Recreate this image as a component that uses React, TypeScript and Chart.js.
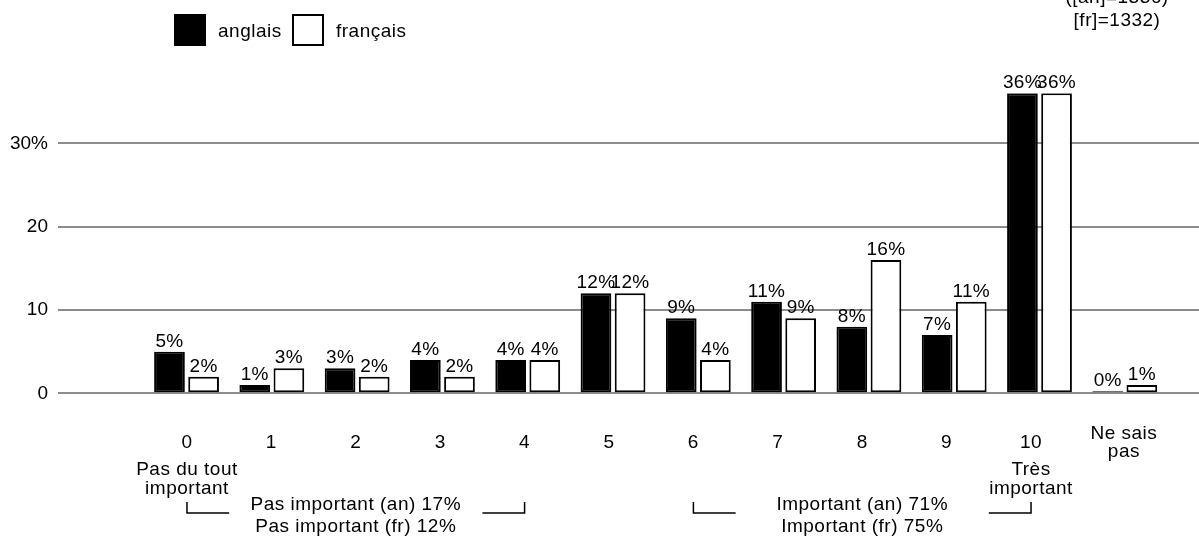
import React, { useEffect, useRef } from 'react';
import { Chart, registerables } from 'chart.js';

Chart.register(...registerables);

// ---- data ----
const POSITIONS = [0, 1, 2, 3, 4, 5, 6, 7, 8, 9, 10, 11];
const ANGLAIS = [5, 1, 3, 4, 4, 12, 9, 11, 8, 7, 36, 0];
const FRANCAIS = [2, 3, 2, 2, 4, 12, 4, 9, 16, 11, 36, 1];
const TICK_LABELS: (string | string[])[] = ['0', '1', '2', '3', '4', '5', '6', '7', '8', '9', '10', ['Ne sais', 'pas']];
const SUB_LABELS = [
  { at: 0, lines: ['Pas du tout', 'important'] },
  { at: 10, lines: ['Très', 'important'] },
];
const GROUPS = [
  { from: 0, to: 4, lines: ['Pas important (an) 17%', 'Pas important (fr) 12%'] },
  { from: 6, to: 10, lines: ['Important (an) 71%', 'Important (fr) 75%'] },
];
const SERIES_NAMES = ['anglais', 'français'];
const SAMPLE_LINES = ['([an]=1336)', '[fr]=1332)'];

const FAMILY = '"Liberation Sans", Arial, Helvetica, sans-serif';
const FONT = `19px ${FAMILY}`;

const annotations = {
  id: 'annotations',
  afterDatasetsDraw(chart: any) {
    const ctx = chart.ctx;
    ctx.save();
    ctx.font = FONT;
    ctx.letterSpacing = '0.3px';
    ctx.fillStyle = '#000';
    ctx.textAlign = 'center';
    ctx.textBaseline = 'alphabetic';
    chart.data.datasets.forEach((ds: any, di: number) => {
      const meta = chart.getDatasetMeta(di);
      meta.data.forEach((el: any, i: number) => {
        const v = ds.data[i].y;
        ctx.fillText(`${v}%`, el.x, el.y - 5);
      });
    });
    ctx.restore();
  },
  afterDraw(chart: any) {
    const ctx = chart.ctx;
    const lab = chart.scales.lab;
    ctx.save();
    ctx.font = FONT;
    ctx.letterSpacing = '0.5px';
    ctx.fillStyle = '#000';
    ctx.strokeStyle = '#000';
    ctx.textAlign = 'center';
    ctx.textBaseline = 'alphabetic';

    // category labels
    TICK_LABELS.forEach((l, i) => {
      const x = lab.getPixelForValue(i === 11 ? 11.1 : i);
      if (Array.isArray(l)) {
        ctx.fillText(l[0], x, 439);
        ctx.fillText(l[1], x, 457);
      } else {
        ctx.fillText(l, x, 448);
      }
    });
    // sub labels
    SUB_LABELS.forEach((s) => {
      const x = lab.getPixelForValue(s.at);
      ctx.fillText(s.lines[0], x, 475);
      ctx.fillText(s.lines[1], x, 494);
    });
    // groups with brackets
    ctx.lineWidth = 1.5;
    GROUPS.forEach((g) => {
      const x0 = lab.getPixelForValue(g.from);
      const x1 = lab.getPixelForValue(g.to);
      const xm = lab.getPixelForValue((g.from + g.to) / 2);
      ctx.fillText(g.lines[0], xm, 510);
      ctx.fillText(g.lines[1], xm, 532);
      const xa = lab.getPixelForValue(g.from + 0.5);
      const xb = lab.getPixelForValue(g.to - 0.5);
      ctx.beginPath();
      ctx.moveTo(x0, 502);
      ctx.lineTo(x0, 513);
      ctx.lineTo(xa, 513);
      ctx.moveTo(xb, 513);
      ctx.lineTo(x1, 513);
      ctx.lineTo(x1, 502);
      ctx.stroke();
    });

    // sample size text (top right)
    ctx.fillText(SAMPLE_LINES[0], 1117, 3);
    ctx.fillText(SAMPLE_LINES[1], 1117, 26);

    // legend
    const boxes = [174, 292];
    ctx.textAlign = 'left';
    ctx.lineWidth = 2;
    chart.data.datasets.forEach((ds: any, di: number) => {
      const bx = boxes[di];
      ctx.fillStyle = ds.backgroundColor;
      ctx.fillRect(bx, 14, 32, 32);
      ctx.strokeStyle = '#000';
      ctx.strokeRect(bx + 1, 15, 30, 30);
      ctx.fillStyle = '#000';
      ctx.fillText(SERIES_NAMES[di], bx + 44, 37);
    });
    ctx.restore();
  },
};

export default function App() {
  const ref = useRef<HTMLCanvasElement>(null);
  useEffect(() => {
    Chart.defaults.font.family = FAMILY;
    Chart.defaults.font.size = 19;
    Chart.defaults.color = '#000';
    const chart = new Chart(ref.current as HTMLCanvasElement, {
      type: 'bar',
      data: {
        datasets: [
          {
            label: SERIES_NAMES[0],
            data: ANGLAIS.map((v, i) => ({ x: POSITIONS[i], y: v })),
            backgroundColor: '#000000',
            borderColor: '#000000',
            borderWidth: 2,
            borderSkipped: false,
            minBarLength: 2,
          },
          {
            label: SERIES_NAMES[1],
            data: FRANCAIS.map((v, i) => ({ x: POSITIONS[i], y: v })),
            backgroundColor: '#ffffff',
            borderColor: '#000000',
            borderWidth: 2,
            borderSkipped: false,
            minBarLength: 2,
          },
        ],
      } as any,
      options: {
        responsive: false,
        devicePixelRatio: 1,
        animation: false,
        layout: { padding: { top: 93.3, bottom: 143.7, left: 0, right: 0 } },
        plugins: { legend: { display: false }, tooltip: { enabled: false } },
        scales: {
          x: {
            type: 'linear',
            display: false,
            offset: false,
            min: -1.507,
            max: 11.87,
          },
          lab: {
            type: 'linear',
            position: 'bottom',
            display: false,
            offset: false,
            min: -1.528,
            max: 11.99,
          },
          y: {
            type: 'linear',
            min: 0,
            max: 36,
            afterFit: (s: any) => {
              s.width = 58;
            },
            border: { display: false },
            grid: { color: '#8c8c8c', lineWidth: 2, drawTicks: false },
            ticks: {
              stepSize: 10,
              includeBounds: false,
              padding: 10,
              color: '#000',
              font: { size: 19, family: FAMILY },
              callback: (v: any) => (v === 30 ? '30%' : String(v)),
            },
          },
        } as any,
      },
      plugins: [annotations],
    });
    return () => chart.destroy();
  }, []);
  return (
    <div style={{ position: 'fixed', left: 0, top: 0, width: 1199, height: 537, background: '#fff' }}>
      <canvas ref={ref} width={1199} height={537} style={{ display: 'block' }} />
    </div>
  );
}
